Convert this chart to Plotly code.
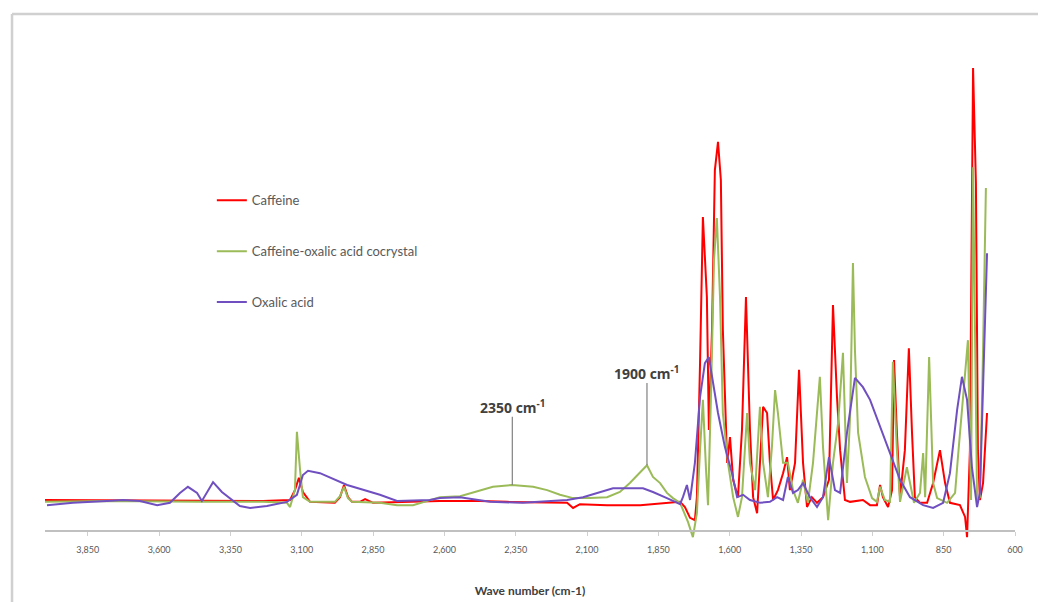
import plotly.graph_objects as go

# ---- Data (wavenumber in cm-1, absorbance in arbitrary units) ----
caffeine_wn = [4000, 3783, 3457, 3236, 3141, 3124, 3110, 3096, 3071, 2984, 2966, 2952, 2938, 2924, 2896,
               2878, 2850, 2616, 2475, 2381, 2170, 2149, 2125, 2030, 1914, 1809, 1774, 1757, 1739, 1722,
               1715, 1704, 1694, 1680, 1673, 1662, 1652, 1641, 1631, 1624, 1609, 1599, 1588, 1571, 1557,
               1543, 1529, 1518, 1504, 1494, 1483, 1469, 1459, 1448, 1431, 1413, 1399, 1389, 1371, 1357,
               1343, 1329, 1312, 1294, 1273, 1252, 1238, 1224, 1213, 1196, 1178, 1133, 1108, 1084, 1073,
               1063, 1045, 1031, 1024, 1014, 1003, 986, 972, 961, 951, 933, 908, 887, 863, 845,
               828, 793, 775, 768, 758, 747, 737, 730, 723, 712, 698]
caffeine_abs = [6.6, 6.5, 6.4, 6.4, 6.6, 8.7, 11.3, 8.3, 6.2, 6.0, 7.2, 9.8, 7.2, 6.2, 6.2,
                6.8, 6.0, 6.4, 6.4, 6.2, 6.0, 4.9, 5.7, 5.5, 5.5, 6.0, 6.2, 5.1, 2.8, 2.3,
                7.2, 35.7, 66.8, 49.8, 21.5, 42.8, 76.8, 82.8, 74.7, 42.8, 14.5, 20.0, 10.9, 7.2, 21.5,
                49.8, 21.5, 7.2, 3.8, 14.5, 26.4, 25.1, 14.5, 6.6, 8.7, 12.3, 15.7, 8.7, 14.5, 34.3,
                14.5, 5.1, 7.2, 6.0, 7.2, 10.9, 48.1, 28.5, 17.2, 6.6, 6.2, 6.6, 5.5, 5.5, 9.8,
                7.2, 5.1, 8.7, 36.4, 20.9, 7.2, 17.2, 38.9, 20.9, 7.2, 6.0, 6.0, 10.2, 17.2, 10.2,
                6.0, 5.5, 3.0, -1.3, 17.2, 98.5, 74.0, 17.2, 6.6, 10.2, 25.1]

cocrystal_wn = [4000, 3783, 3457, 3236, 3152, 3141, 3124, 3117, 3106, 3096, 3071, 2984, 2966, 2952, 2938,
                2924, 2826, 2766, 2710, 2616, 2545, 2475, 2430, 2363, 2289, 2240, 2195, 2149, 2090, 2030,
                1985, 1950, 1914, 1890, 1869, 1844, 1820, 1799, 1774, 1764, 1746, 1729, 1715, 1704, 1694,
                1683, 1676, 1666, 1655, 1645, 1634, 1624, 1606, 1588, 1571, 1557, 1539, 1529, 1511, 1494,
                1483, 1466, 1452, 1441, 1431, 1413, 1396, 1378, 1361, 1343, 1326, 1308, 1284, 1273, 1255,
                1238, 1220, 1203, 1189, 1178, 1168, 1161, 1150, 1126, 1101, 1084, 1073, 1056, 1038, 1028,
                1014, 1003, 979, 968, 954, 933, 922, 915, 901, 887, 873, 838, 810, 800, 782,
                765, 754, 747, 733, 723, 712, 702]
cocrystal_abs = [6.2, 6.4, 6.2, 6.2, 6.0, 5.1, 8.7, 21.1, 13.0, 7.2, 6.2, 6.2, 7.4, 9.4, 7.0,
                 6.2, 6.0, 5.5, 5.5, 7.2, 7.4, 8.7, 9.4, 9.8, 9.4, 8.7, 7.7, 7.0, 7.0, 7.2,
                 8.3, 10.2, 12.6, 14.0, 11.5, 10.2, 8.1, 7.0, 6.0, 4.5, 1.9, -1.3, 3.8, 17.2, 27.9,
                 13.0, 5.5, 27.9, 57.7, 66.6, 49.8, 25.1, 14.5, 7.2, 3.0, 7.2, 25.1, 14.5, 8.7, 26.4,
                 14.5, 7.2, 17.9, 30.0, 25.1, 14.5, 14.5, 8.7, 6.0, 10.9, 6.0, 14.5, 32.8, 17.9, 2.3,
                 14.5, 23.0, 37.9, 10.2, 24.3, 57.0, 38.5, 20.9, 11.5, 7.0, 6.2, 9.4, 6.6, 6.2, 36.0,
                 17.2, 6.2, 13.6, 10.2, 6.0, 8.1, 16.6, 7.2, 37.0, 10.2, 7.0, 6.0, 8.1, 15.7, 27.9,
                 40.6, 6.6, 77.4, 6.6, 7.2, 38.5, 73.0]

oxalic_wn = [3993, 3902, 3783, 3727, 3667, 3607, 3562, 3527, 3499, 3467, 3450, 3432, 3411, 3380, 3352,
             3317, 3281, 3222, 3152, 3117, 3096, 3078, 3036, 2941, 2826, 2766, 2651, 2616, 2545, 2440,
             2325, 2170, 2114, 2055, 2009, 1904, 1869, 1820, 1774, 1764, 1750, 1739, 1722, 1704, 1687,
             1673, 1659, 1641, 1617, 1592, 1574, 1553, 1529, 1494, 1459, 1434, 1413, 1396, 1378, 1361,
             1343, 1319, 1294, 1273, 1252, 1231, 1213, 1189, 1161, 1133, 1108, 1073, 1038, 1003, 968,
             922, 887, 852, 828, 803, 786, 768, 751, 733, 723, 709, 698]
oxalic_abs = [5.5, 6.0, 6.4, 6.6, 6.4, 5.5, 6.0, 8.1, 9.4, 8.1, 6.4, 8.3, 10.4, 8.3, 7.0,
              5.3, 4.9, 5.3, 6.2, 7.7, 11.9, 12.8, 12.3, 9.8, 7.7, 6.4, 6.6, 7.0, 7.2, 6.2,
              6.0, 6.6, 7.2, 8.3, 9.1, 9.1, 8.3, 7.0, 5.7, 7.2, 9.8, 6.6, 14.5, 28.5, 35.7,
              37.0, 32.1, 25.1, 17.9, 12.3, 7.2, 7.7, 6.6, 6.0, 6.2, 7.2, 6.6, 11.5, 8.1, 8.7,
              10.2, 7.2, 5.1, 7.2, 15.7, 8.7, 8.1, 20.9, 32.6, 30.6, 27.9, 22.1, 16.6, 10.9, 7.2,
              5.5, 4.9, 6.0, 12.3, 25.7, 32.8, 27.9, 13.6, 5.1, 8.1, 38.5, 59.1]

series_names = ["Caffeine", "Caffeine-oxalic acid cocrystal", "Oxalic acid"]
series_colors = ["#FF0000", "#9BBB59", "#7050C0"]

x_tick_vals = [3850, 3600, 3350, 3100, 2850, 2600, 2350, 2100, 1850, 1600, 1350, 1100, 850, 600]
x_tick_text = ["3,850", "3,600", "3,350", "3,100", "2,850", "2,600", "2,350", "2,100",
               "1,850", "1,600", "1,350", "1,100", "850", "600"]

# annotation markers: (label, wavenumber, line bottom, line top)
marks = [("2350 cm<sup>-1</sup>", 2362, 9.8, 24.3),
         ("1900 cm<sup>-1</sup>", 1890, 14.0, 31.5)]

fig = go.Figure()
for name, wn, ab, col in zip(series_names,
                             [caffeine_wn, cocrystal_wn, oxalic_wn],
                             [caffeine_abs, cocrystal_abs, oxalic_abs],
                             series_colors):
    fig.add_trace(go.Scatter(x=wn, y=ab, mode="lines", name=name, legendgroup=name,
                             line=dict(color=col, width=2)))

for label, wn, y0, y1 in marks:
    fig.add_shape(type="line", xref="x", yref="y", x0=wn, x1=wn, y0=y0, y1=y1,
                  line=dict(color="#808080", width=1.2))
    fig.add_annotation(x=wn, y=y1, xref="x", yref="y", text="<b>" + label + "</b>",
                       showarrow=False, yanchor="bottom", yshift=-2,
                       font=dict(family="Open Sans", size=14, color="#404040"))

# outer chart border (top and left edges)
fig.add_shape(type="line", xref="paper", yref="paper", x0=-0.034, x1=1.05, y0=1.0837, y1=1.0837,
              line=dict(color="#d0d0d0", width=2.5))
fig.add_shape(type="line", xref="paper", yref="paper", x0=-0.034, x1=-0.034, y0=1.0837, y1=-0.15,
              line=dict(color="#d0d0d0", width=2.5))

fig.update_layout(
    width=1038, height=594,
    margin=dict(l=37, r=31, t=47, b=57, autoexpand=False),
    paper_bgcolor="white", plot_bgcolor="white",
    showlegend=True,
    legend=dict(x=0.172, y=0.734, xanchor="left", yanchor="top",
                bgcolor="rgba(0,0,0,0)", tracegroupgap=31, itemwidth=30,
                font=dict(family="Lato", size=13, color="#595959")),
    xaxis=dict(range=[4000, 600], tickvals=x_tick_vals, ticktext=x_tick_text,
               showgrid=False, zeroline=False, showline=True, linecolor="#c0c0c0", linewidth=1.5,
               ticks="outside", ticklen=4, tickcolor="#d0d0d0", ticklabelstandoff=6,
               tickfont=dict(family="Lato", size=9, color="#595959"),
               anchor="free", position=0.0286, automargin=False,
               title=dict(text="<b>Wave number (cm-1)</b>", standoff=32,
                          font=dict(family="Lato", size=12, color="#404040"))),
    yaxis=dict(range=[-2.98, 101.28], showgrid=False, zeroline=False, showline=False,
               showticklabels=False, ticks="", automargin=False),
)

fig.write_html("out.html")
